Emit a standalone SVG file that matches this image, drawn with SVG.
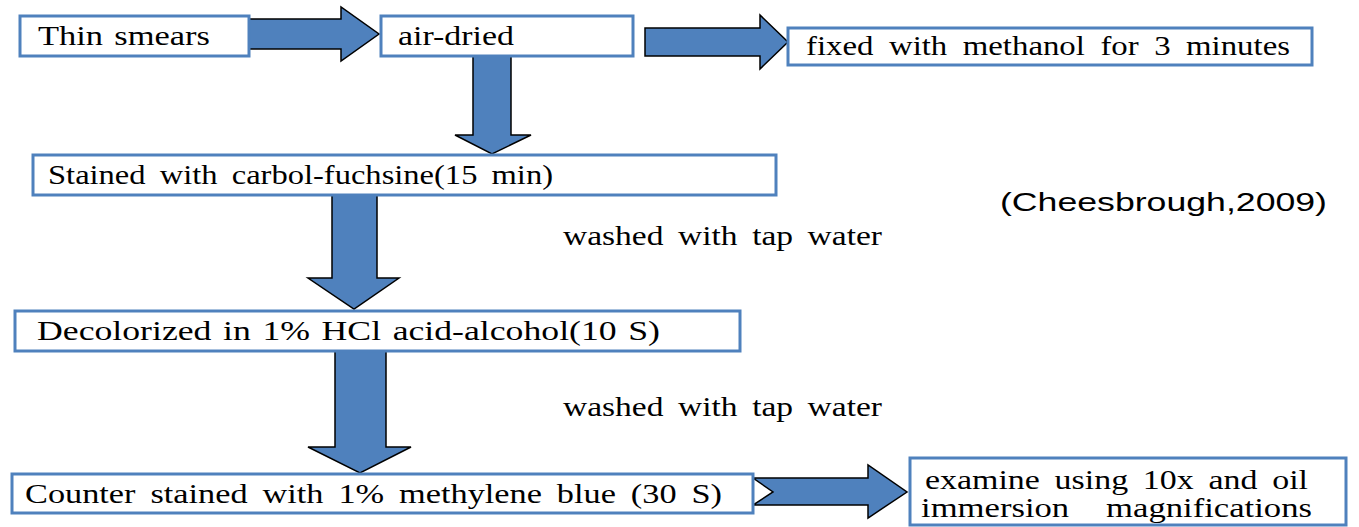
<svg xmlns="http://www.w3.org/2000/svg" width="1359" height="527" viewBox="0 0 1359 527">
<style>
.box{fill:#fff;stroke:#4F81BD;stroke-width:3}
.arr{fill:#4F81BD;stroke:#000;stroke-width:1.5;stroke-linejoin:miter}
.t{font-family:"Liberation Serif","Times New Roman",serif;font-size:27px;fill:#000;word-spacing:2px}
.a{font-family:"Liberation Sans",Arial,sans-serif;font-size:25px;fill:#000}
</style>
<rect width="1359" height="527" fill="#fff"/>
<g id="connectors">
<polygon class="arr" points="249,19 341,19 341,7 379,34 341,61 341,49 249,49"/>
<polygon class="arr" points="645,28 760,28 760,15 788,42 760,69 760,56 645,56"/>
<polygon class="arr" points="473,56 511,56 511,135 531,135 492,154 455,135 473,135"/>
<polygon class="arr" points="332,195 377,195 377,278 399,278 354,309 308,278 332,278"/>
<polygon class="arr" points="335,351 386,351 386,447 411,447 360,473 308,447 335,447"/>
<polygon class="arr" points="753,478 868,478 868,465 907,492 868,518 868,505 753,505 773,492"/>
</g>
<g id="thin-smears">
<rect class="box" x="20" y="16" width="229" height="40"/>
<text class="t" x="38" y="45" textLength="172" lengthAdjust="spacingAndGlyphs">Thin smears</text>
</g>
<g id="air-dried">
<rect class="box" x="381" y="16" width="252" height="40"/>
<text class="t" x="398" y="45" textLength="116" lengthAdjust="spacingAndGlyphs">air-dried</text>
</g>
<g id="fixed">
<rect class="box" x="788" y="28" width="524" height="37"/>
<text class="t" x="806" y="55" textLength="484" lengthAdjust="spacingAndGlyphs" style="word-spacing:6px">fixed with methanol for 3 minutes</text>
</g>
<g id="stained">
<rect class="box" x="33" y="155" width="743" height="40"/>
<text class="t" x="48" y="184" textLength="505" lengthAdjust="spacingAndGlyphs" style="word-spacing:5px">Stained with carbol-fuchsine(15 min)</text>
</g>
<g id="washed-1">
<text class="t" x="563" y="245" textLength="319" lengthAdjust="spacingAndGlyphs" style="word-spacing:5px">washed with tap water</text>
</g>
<g id="citation">
<text class="a" x="1000" y="211" textLength="327" lengthAdjust="spacingAndGlyphs">(Cheesbrough,2009)</text>
</g>
<g id="decolorized">
<rect class="box" x="15" y="311" width="725" height="40"/>
<text class="t" x="37" y="340" textLength="623" lengthAdjust="spacingAndGlyphs" style="word-spacing:2px">Decolorized in 1% HCl acid-alcohol(10 S)</text>
</g>
<g id="washed-2">
<text class="t" x="563" y="416" textLength="319" lengthAdjust="spacingAndGlyphs" style="word-spacing:5px">washed with tap water</text>
</g>
<g id="counter">
<rect class="box" x="12" y="474" width="741" height="39"/>
<text class="t" x="25" y="503" textLength="697" lengthAdjust="spacingAndGlyphs" style="word-spacing:5px">Counter stained with 1% methylene blue (30 S)</text>
</g>
<g id="examine">
<rect class="box" x="910" y="458" width="436" height="67"/>
<text class="t" x="925" y="489" textLength="383" lengthAdjust="spacingAndGlyphs" style="word-spacing:5px">examine using 10x and oil</text>
<text class="t" x="921" y="517" textLength="391" lengthAdjust="spacingAndGlyphs" style="word-spacing:22px">immersion magnifications</text>
</g>
</svg>
